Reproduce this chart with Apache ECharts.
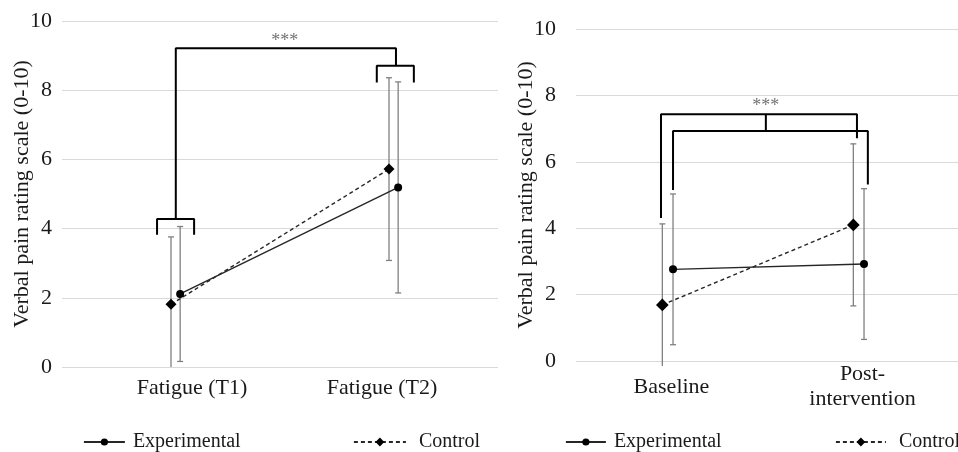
<!DOCTYPE html>
<html><head><meta charset="utf-8">
<script src="https://cdn.jsdelivr.net/npm/echarts@6/dist/echarts.min.js"></script>
<style>html,body{margin:0;padding:0;background:#fff}#c{width:958px;height:452px}</style>
</head><body><div id="c"></div>
<script>
// ---- data ----
const leftCategories = ['Fatigue (T1)', 'Fatigue (T2)'];
const leftExpMean = [2.11, 5.19];
const leftExpSD = [1.95, 3.05];
const leftCtrlMean = [1.81, 5.72];
const leftCtrlSD = [1.95, 2.64];

const rightCategories = ['Baseline', 'Post-\nintervention'];
const rightExpMean = [2.76, 2.92];
const rightExpSD = [2.27, 2.27];
const rightCtrlMean = [1.69, 4.10];
const rightCtrlSD = [2.44, 2.44];

const yTicks = [0, 2, 4, 6, 8, 10];
const yTitle = 'Verbal pain rating scale (0-10)';
const sigLabel = '***';
const seriesNames = ['Experimental', 'Control'];

// bracket annotations in axis units [category position, value]
const leftBrackets = [
  [[0.022, 4.28], [0.022, 9.21], [1.032, 9.21], [1.032, 8.71]],
  [[-0.064, 3.82], [-0.064, 4.28], [0.106, 4.28], [0.106, 3.82]],
  [[0.944, 8.22], [0.944, 8.71], [1.114, 8.71], [1.114, 8.22]]
];
const leftSigPos = [0.522, 9.42];
const rightBrackets = [
  [[-0.055, 4.31], [-0.055, 7.43], [0.971, 7.43], [0.971, 6.71]],
  [[0.008, 5.15], [0.008, 6.93], [1.028, 6.93], [1.028, 5.32]],
  [[0.494, 7.43], [0.494, 6.93]]
];
const rightSigPos = [0.494, 7.66];

// ---- styling ----
const FONT = 'Liberation Serif';
const FS = 22;
const TXT = '#1a1a1a';
const LINE = '#262626';
const ERR = '#808080';

function errData(means, sds, offset) {
  return means.map((m, i) => [i + offset, m - sds[i], m + sds[i]]);
}
function lineData(means, offset) {
  return means.map((m, i) => [i + offset, m]);
}
function errRender(extra) {
  return function (params, api) {
    const x = api.value(0), lo = api.value(1), hi = api.value(2);
    const top = api.coord([x, hi]);
    let bot = api.coord([x, lo]);
    const floor = api.coord([x, 0])[1] + extra;
    let capB = true;
    if (bot[1] > floor) { bot = [bot[0], floor]; capB = false; }
    const st = { stroke: ERR, lineWidth: 1.3 };
    const ch = [
      { type: 'line', shape: { x1: top[0], y1: top[1], x2: bot[0], y2: bot[1] }, style: st },
      { type: 'line', shape: { x1: top[0] - 3, y1: top[1], x2: top[0] + 3, y2: top[1] }, style: st }
    ];
    if (capB) ch.push({ type: 'line', shape: { x1: bot[0] - 3, y1: bot[1], x2: bot[0] + 3, y2: bot[1] }, style: st });
    return { type: 'group', children: ch };
  };
}

function yAxisCfg(gi, labelMargin, nameGap) {
  return {
    gridIndex: gi, type: 'value', min: 0, max: 10, interval: 2,
    name: yTitle, nameLocation: 'middle', nameGap: nameGap, nameMoveOverlap: false,
    nameTextStyle: { fontFamily: FONT, fontSize: FS, color: TXT },
    axisLine: { show: false }, axisTick: { show: false },
    axisLabel: { fontFamily: FONT, fontSize: FS, color: TXT, margin: labelMargin,
      formatter: v => yTicks.includes(v) ? String(v) : '' },
    splitLine: { lineStyle: { color: '#d9d9d9', width: 1.2 } }
  };
}
function catAxisCfg(gi, cats, margin, pads) {
  return {
    gridIndex: gi, type: 'category', data: cats, boundaryGap: true,
    axisLine: { show: false }, axisTick: { show: false }, splitLine: { show: false },
    axisLabel: {
      margin: margin, verticalAlign: 'middle', lineHeight: 25,
      formatter: (v, i) => '{c' + i + '|' + v.split('\n').join('}\n{c' + i + '|') + '}',
      rich: {
        c0: { fontFamily: FONT, fontSize: FS, color: TXT, lineHeight: 25, padding: pads[0] },
        c1: { fontFamily: FONT, fontSize: FS, color: TXT, lineHeight: 25, padding: pads[1] }
      }
    }
  };
}
function valXAxis(gi) {
  return { gridIndex: gi, type: 'value', min: -0.5, max: 1.5, show: false };
}

const series = [];
function addChart(xi, yi, expMean, expSD, ctrlMean, ctrlSD, expOff, ctrlOff, extra, brackets, sigPos, symScale) {
  series.push({ type: 'custom', xAxisIndex: xi, yAxisIndex: yi, z: 1, silent: true,
    renderItem: errRender(extra), data: errData(expMean, expSD, expOff) });
  series.push({ type: 'custom', xAxisIndex: xi, yAxisIndex: yi, z: 1, silent: true,
    renderItem: errRender(extra), data: errData(ctrlMean, ctrlSD, ctrlOff) });
  series.push({ name: seriesNames[0], type: 'line', xAxisIndex: xi, yAxisIndex: yi, z: 3,
    symbol: 'circle', symbolSize: 8, itemStyle: { color: '#000' },
    lineStyle: { color: LINE, width: 1.4 }, data: lineData(expMean, expOff) });
  series.push({ name: seriesNames[1], type: 'line', xAxisIndex: xi, yAxisIndex: yi, z: 3,
    symbol: 'diamond', symbolSize: 11 * symScale, itemStyle: { color: '#000' },
    lineStyle: { color: LINE, width: 1.4, type: [4, 3] }, data: lineData(ctrlMean, ctrlOff) });
  brackets.forEach(b => series.push({ type: 'line', xAxisIndex: xi, yAxisIndex: yi, z: 4,
    silent: true, symbol: 'none', lineStyle: { color: '#000', width: 2 }, data: b }));
  series.push({ type: 'scatter', xAxisIndex: xi, yAxisIndex: yi, symbolSize: 0, silent: true,
    label: { show: true, position: 'inside', formatter: sigLabel, fontFamily: FONT, fontSize: 18, color: '#4d4d4d' },
    data: [sigPos] });
}
addChart(1, 0, leftExpMean, leftExpSD, leftCtrlMean, leftCtrlSD, 0.042, 0, 0, leftBrackets, leftSigPos, 1);
addChart(3, 1, rightExpMean, rightExpSD, rightCtrlMean, rightCtrlSD, 0.008, -0.048, 5, rightBrackets, rightSigPos, 1.15);

function legendCfg(name, left, w, pad, h) {
  return { data: [name], left: left, top: 432, itemWidth: w, itemHeight: h, itemGap: 0, padding: 0,
    selectedMode: false, lineStyle: { width: 1.8 },
    textStyle: { fontFamily: FONT, fontSize: 20, color: TXT, padding: [0, 0, 0, pad] } };
}

const option = {
  animation: false,
  backgroundColor: '#fff',
  grid: [
    { left: 62, right: 460, top: 21, bottom: 85 },
    { left: 576, right: 0, top: 29, bottom: 91 }
  ],
  xAxis: [
    catAxisCfg(0, leftCategories, 21, [[0, 0, 0, 42], [0, 14, 0, 0]]),
    valXAxis(0),
    catAxisCfg(1, rightCategories, 26, [[0, 0, 0, 0], [0, 0, 0, 0]]),
    valXAxis(1)
  ],
  yAxis: [yAxisCfg(0, 10, 29), yAxisCfg(1, 20, 39)],
  legend: [
    legendCfg(seriesNames[0], 83, 41, 3, 9),
    legendCfg(seriesNames[1], 353, 52, 8, 11),
    legendCfg(seriesNames[0], 565, 40, 3, 9),
    legendCfg(seriesNames[1], 835, 50, 8, 11)
  ],
  series: series
};
const chart = echarts.init(document.getElementById('c'), null, { renderer: 'canvas' });
chart.setOption(option);
</script></body></html>
